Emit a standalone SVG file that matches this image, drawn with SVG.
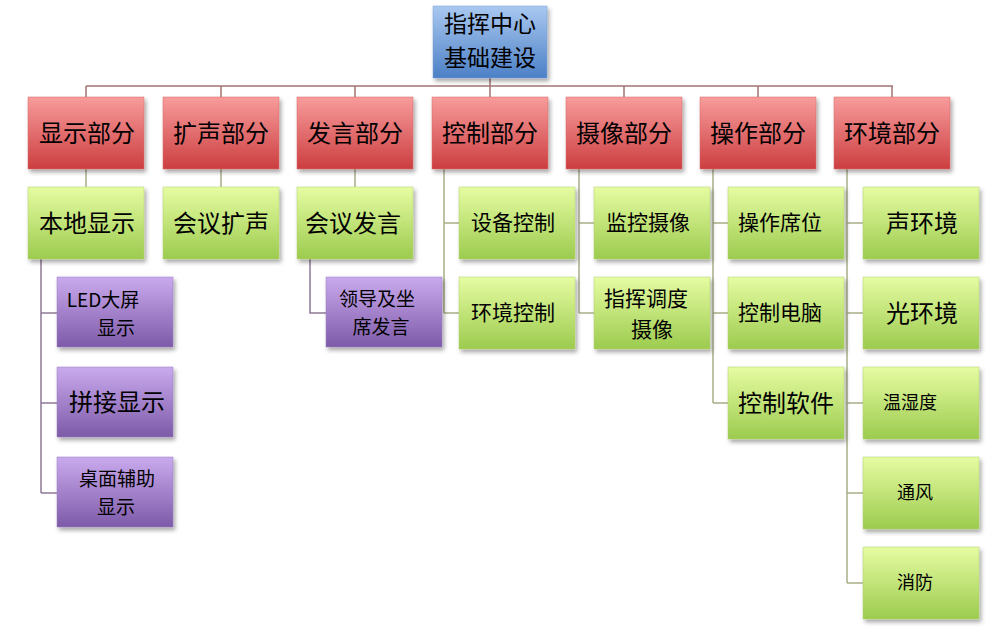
<svg xmlns="http://www.w3.org/2000/svg" width="990" height="633" viewBox="0 0 990 633">
<defs>
<linearGradient id="gBlue" x1="0" y1="0" x2="0" y2="1"><stop offset="0" stop-color="#a9c8f0"/><stop offset="1" stop-color="#4c80c6"/></linearGradient>
<linearGradient id="gRed" x1="0" y1="0" x2="0" y2="1"><stop offset="0" stop-color="#f89c9c"/><stop offset="1" stop-color="#cc3e40"/></linearGradient>
<linearGradient id="gGreen" x1="0" y1="0" x2="0" y2="1"><stop offset="0" stop-color="#e6fca2"/><stop offset="1" stop-color="#9ccb4e"/></linearGradient>
<linearGradient id="gPurple" x1="0" y1="0" x2="0" y2="1"><stop offset="0" stop-color="#caaaee"/><stop offset="1" stop-color="#7d5aa8"/></linearGradient>
<filter id="sh" x="-10%" y="-10%" width="125%" height="130%"><feDropShadow dx="2" dy="3" stdDeviation="2" flood-color="#000" flood-opacity="0.35"/></filter>
</defs>
<style>
.n rect{filter:url(#sh);}
.blue{fill:url(#gBlue);stroke:#7aa0d8;stroke-width:0.5}
.red{fill:url(#gRed);stroke:#d86a6a;stroke-width:0.5}
.green{fill:url(#gGreen);stroke:#b0d070;stroke-width:0.5}
.purple{fill:url(#gPurple);stroke:#9a7cc0;stroke-width:0.5}
text{font-family:"Noto Sans CJK SC","Liberation Sans",sans-serif;fill:#000;text-anchor:middle;dominant-baseline:central}
.t0{font-size:23px}
.t1{font-size:24px}
.t2{font-size:21px}
.t3{font-size:18px}
.t5{font-size:19px}
.c1{stroke:#a37474;stroke-width:1.5;fill:none}
.c2{stroke:#a8ae88;stroke-width:1.5;fill:none}
.c3{stroke:#8e7a96;stroke-width:1.5;fill:none}
</style>
<g id="connectors">
<path class="c1" d="M490 78V86M86 86H893M86 86V97M221 86V97M355 86V97M490 86V97M624 86V97M758 86V97M892 86V97"/>
<path class="c2" d="M86 169V187M221 169V187M355 169V187"/>
<path class="c2" d="M444 169V313M444 223H459M444 313H459"/>
<path class="c2" d="M579 169V313M579 223H594M579 313H594"/>
<path class="c2" d="M713 169V403M713 223H728M713 313H728M713 403H728"/>
<path class="c2" d="M847 169V583M847 223H863M847 313H863M847 403H863M847 493H863M847 583H863"/>
<path class="c3" d="M41 259V493M41 313H57M41 403H57M41 493H57"/>
<path class="c3" d="M310 259V313H326"/>
</g>
<g id="root" class="n"><rect class="blue" x="433" y="6" width="114" height="72"/><text class="t0"><tspan x="490" y="22">指挥中心</tspan><tspan x="490" y="56">基础建设</tspan></text></g>
<g id="xianshi" class="n"><rect class="red" x="28" y="97" width="116" height="72"/><text class="t1" x="87" y="131">显示部分</text></g>
<g id="kuosheng" class="n"><rect class="red" x="163" y="97" width="116" height="72"/><text class="t1" x="221" y="131">扩声部分</text></g>
<g id="fayan" class="n"><rect class="red" x="297" y="97" width="116" height="72"/><text class="t1" x="355" y="131">发言部分</text></g>
<g id="kongzhi" class="n"><rect class="red" x="432" y="97" width="116" height="72"/><text class="t1" x="490" y="131">控制部分</text></g>
<g id="shexiang" class="n"><rect class="red" x="566" y="97" width="116" height="72"/><text class="t1" x="624" y="131">摄像部分</text></g>
<g id="caozuo" class="n"><rect class="red" x="700" y="97" width="116" height="72"/><text class="t1" x="758" y="131">操作部分</text></g>
<g id="huanjing" class="n"><rect class="red" x="834" y="97" width="116" height="72"/><text class="t1" x="892" y="131">环境部分</text></g>
<g id="bendi" class="n"><rect class="green" x="28" y="187" width="116" height="72"/><text class="t1" x="87" y="221">本地显示</text></g>
<g id="huiyikuosheng" class="n"><rect class="green" x="163" y="187" width="116" height="72"/><text class="t1" x="221" y="221">会议扩声</text></g>
<g id="huiyifayan" class="n"><rect class="green" x="297" y="187" width="116" height="72"/><text class="t1" x="353" y="221">会议发言</text></g>
<g id="shebei" class="n"><rect class="green" x="459" y="187" width="116" height="72"/><text class="t2" x="513" y="221">设备控制</text></g>
<g id="huanjingkz" class="n"><rect class="green" x="459" y="277" width="116" height="72"/><text class="t2" x="513" y="311">环境控制</text></g>
<g id="jiankong" class="n"><rect class="green" x="594" y="187" width="116" height="72"/><text class="t2" x="648" y="221">监控摄像</text></g>
<g id="diaodu" class="n"><rect class="green" x="594" y="277" width="116" height="72"/><text class="t2"><tspan x="646" y="297">指挥调度</tspan><tspan x="652" y="328">摄像</tspan></text></g>
<g id="xiwei" class="n"><rect class="green" x="728" y="187" width="116" height="72"/><text class="t2" x="780" y="221">操作席位</text></g>
<g id="diannao" class="n"><rect class="green" x="728" y="277" width="116" height="72"/><text class="t2" x="780" y="311">控制电脑</text></g>
<g id="ruanjian" class="n"><rect class="green" x="728" y="367" width="116" height="72"/><text class="t1" x="786" y="401">控制软件</text></g>
<g id="sheng" class="n"><rect class="green" x="863" y="187" width="116" height="72"/><text class="t1" x="922" y="221">声环境</text></g>
<g id="guang" class="n"><rect class="green" x="863" y="277" width="116" height="72"/><text class="t1" x="922" y="311">光环境</text></g>
<g id="wenshidu" class="n"><rect class="green" x="863" y="367" width="116" height="72"/><text class="t3" x="910" y="401">温湿度</text></g>
<g id="tongfeng" class="n"><rect class="green" x="863" y="457" width="116" height="72"/><text class="t3" x="915" y="491">通风</text></g>
<g id="xiaofang" class="n"><rect class="green" x="863" y="547" width="116" height="72"/><text class="t3" x="915" y="581">消防</text></g>
<g id="led" class="n"><rect class="purple" x="57" y="277" width="116" height="70"/><text class="t5"><tspan x="103" y="298">LED大屏</tspan><tspan x="116" y="326">显示</tspan></text></g>
<g id="pinjie" class="n"><rect class="purple" x="57" y="367" width="116" height="70"/><text class="t1" x="117" y="400">拼接显示</text></g>
<g id="zhuomian" class="n"><rect class="purple" x="57" y="457" width="116" height="70"/><text class="t5"><tspan x="117" y="477">桌面辅助</tspan><tspan x="116" y="505">显示</tspan></text></g>
<g id="lingdao" class="n"><rect class="purple" x="326" y="277" width="116" height="70"/><text class="t5"><tspan x="377" y="297">领导及坐</tspan><tspan x="381" y="325">席发言</tspan></text></g>
</svg>
